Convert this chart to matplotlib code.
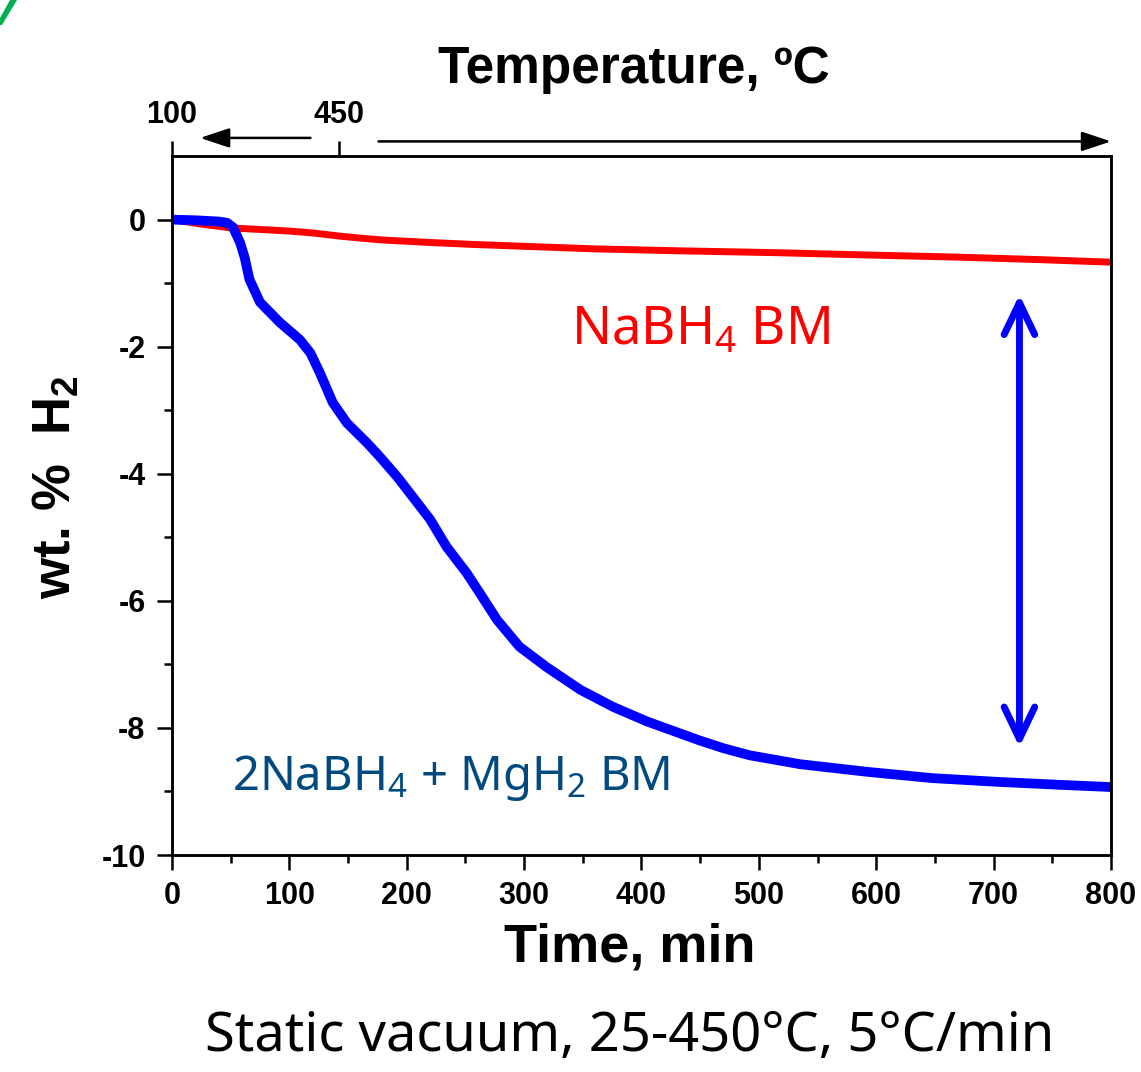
import matplotlib
matplotlib.use("Agg")
import matplotlib.pyplot as plt
from matplotlib.patches import Polygon

# data
time_mix = [0, 20, 40, 47, 52, 58, 62, 66, 75, 92, 109, 118, 126, 137, 149,
            166, 177, 192, 205, 220, 234, 251, 262, 277, 296, 319, 348, 376,
            405, 420, 450, 470, 492, 535, 592, 648, 705, 762, 800]
wt_mix = [0, -0.01, -0.03, -0.05, -0.12, -0.36, -0.6, -0.94, -1.3, -1.62,
          -1.89, -2.1, -2.41, -2.88, -3.2, -3.51, -3.73, -4.05, -4.36, -4.72,
          -5.15, -5.56, -5.87, -6.3, -6.72, -7.04, -7.4, -7.67, -7.9, -8.0,
          -8.2, -8.32, -8.43, -8.57, -8.69, -8.79, -8.85, -8.9, -8.93]

time_nabh4 = [0, 25, 50, 100, 120, 143, 160, 179, 220, 256, 300, 360, 430,
              514, 600, 669, 740, 800]
wt_nabh4 = [0, -0.07, -0.13, -0.18, -0.21, -0.26, -0.29, -0.32, -0.36, -0.39,
            -0.42, -0.46, -0.49, -0.52, -0.56, -0.59, -0.63, -0.67]

x_ticks = [0, 100, 200, 300, 400, 500, 600, 700, 800]
y_ticks = [0, -2, -4, -6, -8, -10]
temp_tick_times = [0, 142]
temp_tick_labels = ["100", "450"]

arrow_time = 722
arrow_top = -1.18
arrow_bottom = -8.3

plt.rcParams["font.family"] = ["Liberation Sans", "DejaVu Sans"]
plt.rcParams["mathtext.default"] = "regular"
plt.rcParams["axes.unicode_minus"] = False

fig = plt.figure(figsize=(11.41, 10.72), dpi=100)
ax = fig.add_axes([0.1507, 0.2024, 0.823, 0.652])

ax.plot(time_nabh4, wt_nabh4, color="#ff0000", linewidth=5,
        solid_capstyle="round", solid_joinstyle="round")
ax.plot(time_mix, wt_mix, color="#0000ff", linewidth=7,
        solid_capstyle="round", solid_joinstyle="round")

ax.set_xlim(0, 800)
ax.set_ylim(-10, 1)
ax.set_xticks(x_ticks)
ax.set_xticks([50, 150, 250, 350, 450, 550, 650, 750], minor=True)
ax.set_yticks(y_ticks)
ax.set_yticks([-1, -3, -5, -7, -9], minor=True)

for side in ["left", "right", "top", "bottom"]:
    ax.spines[side].set_linewidth(1.8)

ax.tick_params(which="major", direction="out", length=11, width=1.8,
               labelsize=22, pad=8)
ax.tick_params(which="minor", direction="out", length=6, width=1.8)
for lab in ax.get_xticklabels() + ax.get_yticklabels():
    lab.set_fontweight("bold")

ax.set_xlabel("Time, min", fontsize=39, fontweight="bold", labelpad=8,
              x=0.488)
ax.set_ylabel("wt. %  H$_2$", fontsize=38, fontweight="bold", labelpad=14,
              y=0.526)

# top temperature axis
ax2 = ax.twiny()
ax2.set_xlim(ax.get_xlim())
ax2.set_xticks(temp_tick_times)
ax2.set_xticklabels(temp_tick_labels, fontsize=22, fontweight="bold")
ax2.tick_params(direction="out", length=11, width=1.8, pad=8)
for side in ["left", "right", "top", "bottom"]:
    ax2.spines[side].set_linewidth(1.8)
ax2.set_xlabel("Temperature, ºC", fontsize=37, fontweight="bold",
               labelpad=12, x=0.492)

ax.annotate("", xy=(24, 1.026), xycoords=("data", "axes fraction"),
            xytext=(118, 1.026), textcoords=("data", "axes fraction"),
            arrowprops=dict(arrowstyle="-|>,head_length=0.6,head_width=0.2",
                            color="black", lw=1.8,
                            mutation_scale=30, shrinkA=0, shrinkB=0),
            annotation_clip=False)
ax.annotate("", xy=(800, 1.021), xycoords=("data", "axes fraction"),
            xytext=(176, 1.021), textcoords=("data", "axes fraction"),
            arrowprops=dict(arrowstyle="-|>,head_length=0.6,head_width=0.2",
                            color="black", lw=1.8,
                            mutation_scale=30, shrinkA=0, shrinkB=0),
            annotation_clip=False)

# double arrow between curves
ax.annotate("", xy=(arrow_time, arrow_top), xytext=(arrow_time, arrow_bottom),
            arrowprops=dict(arrowstyle="<->,head_length=2.3,head_width=1.1",
                            color="#0000ff", lw=5, shrinkA=0, shrinkB=0,
                            capstyle="round", joinstyle="round"))

ax.text(450, -1.75, "NaBH$_4$ BM", color="#ff0000", fontsize=38,
        family="Noto Sans", ha="center", va="center")
ax.text(238, -8.79, "2NaBH$_4$ + MgH$_2$ BM", color="#004a7f", fontsize=34,
        family="Noto Sans", ha="center", va="center")

fig.text(0.552, 0.033, "Static vacuum, 25-450°C, 5°C/min", fontsize=39,
         family="Noto Sans", ha="center", va="center")

# green corner mark from the slide
w, h = 1141, 1072
corner = Polygon([(10 / w, 1), (17 / w, 1), (2 / w, 1 - 25 / h),
                  (0, 1 - 25 / h), (0, 1 - 18 / h)],
                 closed=True, transform=fig.transFigure,
                 facecolor="#00b050", edgecolor="none")
fig.patches.append(corner)

fig.savefig("out.png", dpi=100)
plt.close(fig)
